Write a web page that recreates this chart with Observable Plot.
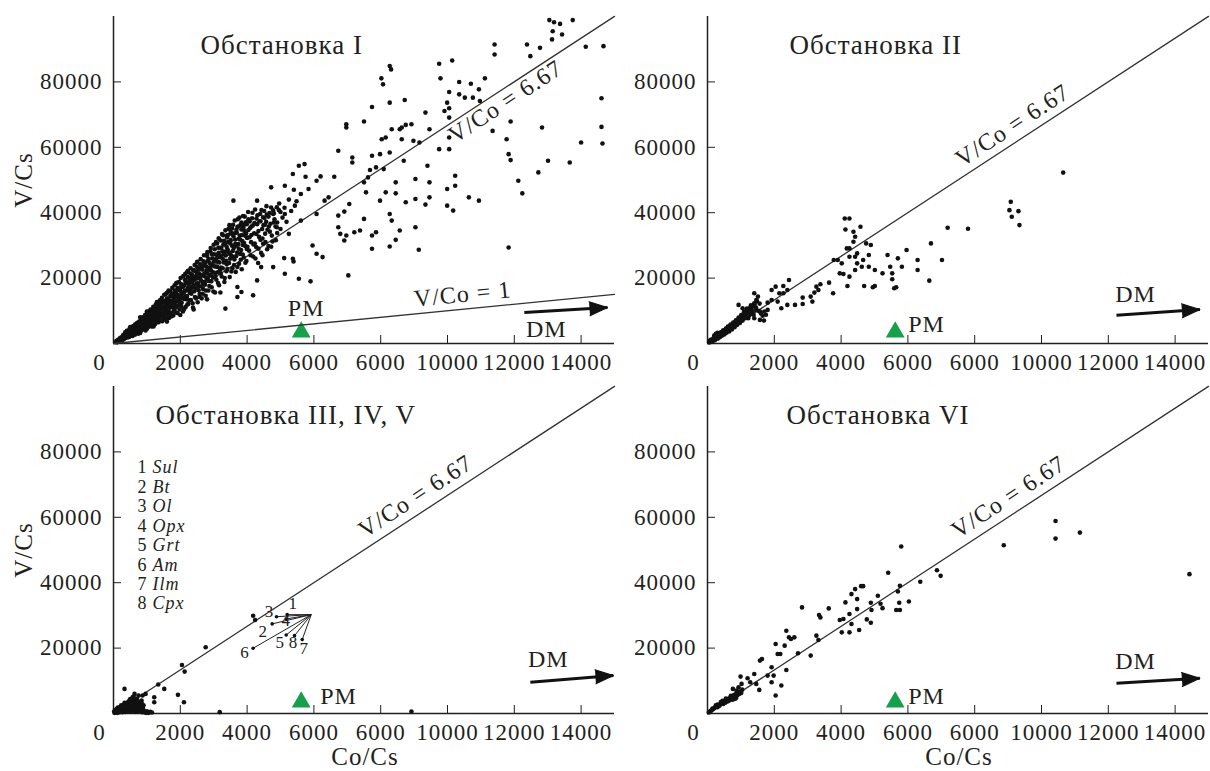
<!DOCTYPE html>
<html><head><meta charset="utf-8">
<script src="https://cdn.jsdelivr.net/npm/d3@7"></script>
<script src="https://cdn.jsdelivr.net/npm/@observablehq/plot@0.6"></script>
<style>
html,body{margin:0;padding:0;background:#fff;}
#wrap{position:relative;width:1210px;height:771px;overflow:hidden;background:#fff;}
#wrap svg{position:absolute;max-width:none;}
</style></head><body><div id="wrap"></div>
<script>
// ---- tick labels (as printed in the source figure) ----
const xTicks = [2000, 4000, 6000, 8000, 10000, 12000, 14000];
const xTickLabels = ["2000", "4000", "6000", "6000", "10000", "12000", "14000"];
const yTicks = [20000, 40000, 60000, 80000];
const titles = ["Обстановка I", "Обстановка II", "Обстановка III, IV, V", "Обстановка VI"];
const xLabel = "Co/Cs";
const yLabel = "V/Cs";
const ratioMain = 6.67;
const ratioOne = 1;
// primitive mantle (PM)
const pmPoint = [5620, 3500];
// DM arrows [x1, y1, x2, y2] per panel
const dmArrows = [[12300, 9470, 14790, 10990], [12245, 8640, 14742, 10380], [12480, 9560, 14967, 11600], [12245, 9250, 14742, 10780]];

// ---- Обстановка I ----
const pointsI = [
[13050,98900],[13190,98250],[13370,97740],[13750,98900],[13150,95500],[13430,94500],[13130,93000],
[11410,91440],[11410,88390],[12380,91440],[12480,87880],[12770,90420],[14140,90730],[14670,90930],
[9750,85550],[10140,86560],[9790,81080],[10350,79960],[10700,79450],[11120,81080],[10940,77720],
[8270,84840],[8310,83820],[8020,81080],[8070,79250],[10050,76910],[10350,76200],[10520,75180],[10760,75180],[10970,74170],
[8720,74470],[8270,73660],[9990,73660],[10050,71930],[14610,74980],[7740,72340],[9340,70610],[9910,71120],[10050,69090],
[7500,67870],[8570,65530],[8630,66040],[8750,66850],[8920,67060],[8330,65530],[9460,65530],[11890,67870],[12830,66040],[11350,65020],[14610,66240],
[6970,67060],[6970,66040],[8030,62480],[8150,62990],[8630,62480],[8980,61980],[9160,61470],[10050,62990],[10050,59440],[11770,62480],[14000,61470],[14640,61160],
[6730,58930],[7150,56900],[7150,55370],[7740,57400],[7980,57910],[8270,58420],[8690,55880],[9750,59440],[11830,57910],[11890,56080],[13010,55880],[13660,55370],
[5550,54360],[5370,51820],[5750,51000],[6200,51100],[6610,51000],[7500,49280],[7620,50800],[7680,53040],[7860,53850],[8090,53340],[9400,54360],[10230,51310],[9460,49280],[9990,47240],[10230,48260],[12120,49780],[12240,45920],[12720,52320],
[9040,50290],[8450,49280],[8150,46230],[8450,45920],[8750,43180],[9040,44200],[9460,44700],[9990,42160],[10170,40640],[10640,44700],[10940,43690],[7980,43690],[7560,46230],
[6730,39120],[6910,40340],[7060,42670],[7500,38100],[8270,39620],[8330,37590],[8570,34540],[9040,35560],[9340,42470],
[6730,35560],[6790,33530],[6970,33020],[7210,34040],[7380,34540],[7740,33020],[7860,34040],[8450,31700],[6910,31500],
[6080,27430],[6260,26420],[5960,29970],[5370,25910],[5110,26110],[5390,25100],[7740,28960],[8270,29670],[9140,28650],[11830,29360],
[7030,20830],[5550,19810],[5900,19000],[4780,23370],[5130,21340],[4420,23370],[3710,17270],[3830,15750],[4300,19300],[3350,10670],[3710,14220],[4180,14730],
[5130,48260],[3590,43690],[4720,47750],[5720,54860],
[4300,43690],[4890,41660],[5130,39620],[5610,45720],[5840,47240],[6080,49780],[6320,43690],[4890,35560],[5250,33530],[5610,37590],[6080,39620],[6440,44700],[5430,42160],[4480,38610],[4780,39620],
[100,600],[150,1200],[180,900],[220,1500],[250,1900],[260,1200],[300,2300],[320,1700],[350,2800],[360,2000],[380,3100],[400,2500],[420,3500],[440,1900],[460,3000],[480,3900],[500,2600],[520,4200],[540,3300],[560,3800],[580,4600],[600,2900],[610,4100],[630,5000],[650,3600],[670,4500],[690,5400],[700,3900],[720,4800],[740,6000],[760,4300],[780,5300],[800,6600],[810,3800],[830,5000],[850,6200],[870,7200],[880,4600],[900,5700],[920,6800],[940,7900],[950,5100],[970,6300],[990,7400],[1000,4500],[1020,8600],[1040,5800],[1060,7000],[1080,9200],[1100,6400],[1120,7800],[1140,5200],[1150,8800],[1170,10100],[1190,6900],[1200,8200],[1220,9500],[1240,5900],[1260,7600],[1280,10800],[1300,8900],[1320,6600],[1340,9900],[1350,11500],[1370,8100],[1390,7200],[1400,10500],[1420,12300],[1440,9000],[1460,6800],[1480,11200],[1500,8400],[1510,13000],[1530,9700],[1550,7600],[1570,11900],[1590,10300],[1600,13800],[1620,8900],[1640,12600],[1660,7800],[1680,10900],[1700,14500],[1710,9500],[1730,12000],[1750,15300],[1770,11100],[1790,8600],[1800,13400],[1820,10200],[1840,16200],[1860,12700],[1880,9400],[1900,14700],[1920,17000],[1940,11600],[1960,13900],[1980,10400],[2000,16100],[2020,18200],[2040,12500],[2060,15200],[2080,9800],[2100,17500],[2120,13600],[2140,19400],[2160,11200],[2180,16300],[2200,14400],[2220,20300],[2240,12100],[2260,18100],[2280,15500],[2300,21400],[2320,13300],[2340,17200],[2360,19600],[2380,11000],[2400,22500],[2420,16000],[2440,14200],[2460,20400],[2480,18300],[2500,23400],[2520,12600],[2540,17400],[2560,21500],[2580,15100],[2600,24200],[2620,19300],[2640,13800],[2660,22600],[2680,16700],[2700,25100],[2720,20600],[2740,18000],[2760,14600],[2780,23500],[2800,26800],[2820,21400],[2840,16200],[2860,19100],[2880,24600],[2900,28100],[2920,22400],[2940,17200],[2960,26000],[2980,20200],[3000,30200],[3020,23600],[3040,15600],[3060,27200],[3080,19500],[3100,25000],[3120,21800],[3140,29300],[3160,17800],[3180,26400],[3200,31500],[3220,23200],[3240,20500],[3260,28200],[3280,33100],[3300,24800],[3320,18800],[3340,30300],[3360,26900],[3380,22100],[3400,32400],[3420,28700],[3440,35000],[3460,24600],[3480,20300],[3500,30600],[3520,27000],[3540,33600],[3560,23000],[3580,36300],[3600,29200],[3620,25700],[3640,31800],[3660,21900],[3680,34800],[3700,27800],[3720,38000],[3740,30400],[3760,24400],[3780,33000],[3800,36200],[3820,28600],[3840,22700],[3860,31300],[3880,39000],[3900,26300],[3920,34400],[3940,29800],[3960,37100],[3980,25200],[4000,32300],[4030,40200],[4060,28400],[4090,35300],[4120,31000],[4150,38300],[4180,26600],[4210,33700],[4240,41000],[4270,29500],[4300,36500],[4330,24600],[4360,32600],[4390,39600],[4420,27700],[4450,35000],[4480,30500],[4510,40500],[4540,33600],[4570,37200],[4600,28800],[4640,38800],[4680,34200],[4720,41600],[4760,31200],[4800,39800],[4850,35800],[4900,33800],[4960,42800],[5000,40200],
[130,900],[200,1700],[240,800],[280,2000],[330,1500],[370,2500],[410,2100],[450,3300],[490,2200],[530,3600],[570,3000],[620,4400],[660,3200],[700,4700],[750,5500],[790,4700],[840,5700],[890,6500],[930,5300],[980,6900],[1030,7600],[1070,6100],[1110,8700],[1160,7400],[1210,8600],[1250,10000],[1290,7100],[1330,8400],[1380,10900],[1430,11400],[1470,8300],[1520,10700],[1560,12700],[1610,11300],[1650,9600],[1690,13100],[1740,11600],[1780,14300],[1830,12000],[1870,15300],[1910,13000],[1950,16500],[1990,12000],[2030,14600],[2070,17300],[2110,15600],[2150,18300],[2190,13500],[2230,17000],[2270,19300],[2310,16400],[2350,21000],[2390,17800],[2430,19500],[2470,22000],[2510,19900],[2550,16300],[2590,23000],[2630,20800],[2670,18600],[2710,23800],[2750,21700],[2790,19800],[2830,25400],[2870,22600],[2910,20900],[2950,24000],[2990,27300],[3030,21600],[3070,25800],[3110,23400],[3150,27700],[3190,22500],[3230,29300],[3270,25900],[3310,31400],[3350,28100],[3390,24200],[3430,31000],[3470,27500],[3510,34100],[3550,29900],[3590,26500],[3630,33700],[3670,29900],[3710,35600],[3750,32000],[3790,27400],[3830,34900],[3870,30100],[3910,36300],[3950,32900],[3990,28900],[4040,34700],[4080,37300],[4130,33200],[4170,36100],[4230,30600],[4280,38200],[4340,34400],[4400,37400],[4460,32100],[4530,36300],[4590,39400],[4650,35800],[4720,29600],[4800,37000],
[500,5000],[800,8000],[1000,9800],[1300,12700],[1600,15500],[1900,18600],[2200,21800],[2500,24800],[2800,27200],[3100,30600],[3400,33000],[800,3200],[1200,5200],[1600,6700],[2000,8700],[2400,10400],[2800,13500],[3200,15600],
[60,400],[90,800],[110,350],[140,1000],[170,600],[190,1400],[210,900],[230,1800],[270,1100],[290,2600],[310,1400],[340,2200],[350,3400],[390,1800],[400,3900],[430,2700],[460,2000],[470,4300],[510,3100],[520,2400],[550,4700],[570,2300],[590,5300],[610,3400],[640,2700],[650,5900],[680,3700],[710,6300],[730,4200],[740,3000],[770,6700],[790,3900],[810,5600],[820,7500],[850,4100],[860,5300],[880,8000],[910,4800],[930,6000],[950,8800],[960,4000],[990,5600],[1010,9400],[1020,6700],
[1030,5000],[1050,9800],[1070,8000],[1090,5500],[1110,10400],[1130,6800],[1150,9600],[1170,5600],[1190,11200],[1210,7300],[1230,10300],[1250,6200],[1270,12000],[1290,9300],[1310,7800],[1330,12700],[1350,6500],[1360,10200],[1390,13200],[1400,8600],[1420,7000],[1440,11700],[1450,14000],[1470,9800],[1490,12700],[1510,7400],[1520,14900],[1540,11300],[1560,8900],[1580,15200],[1600,10900],[1610,7700],[1630,13600],[1650,16200],[1670,11800],[1690,9200],[1700,15900],[1720,13000],[1740,8300],[1760,17000],[1780,12400],[1790,15000],[1810,9900],[1830,17800],[1850,14200],[1870,11000],[1880,18500],[1900,16200],[1920,9300],[1940,14800],[1960,18800],[1980,12900],[1990,16900],
[2010,20000],[2030,11300],[2050,17700],[2070,13900],[2090,20600],[2110,10500],[2130,16100],[2150,21300],[2170,14500],[2190,18600],[2210,11900],[2230,22200],[2250,16700],[2270,13200],[2290,20000],[2310,23000],[2330,15200],[2350,18800],[2370,12300],[2390,22300],[2410,20100],[2430,24000],[2450,16900],[2470,13800],[2490,21000],[2510,25000],[2530,18400],[2550,22700],[2570,14200],[2590,20300],[2610,25800],[2630,17500],[2650,23800],[2670,15200],[2690,21200],[2710,27000],[2730,18900],[2750,24700],[2770,16200],[2790,22300],[2810,28000],[2830,20200],[2850,25900],[2870,17600],[2890,23300],[2910,29200],[2930,19000],[2950,27200],[2970,21800],[2990,15900],
[3010,25000],[3030,28800],[3050,20600],[3070,31000],[3090,23500],[3110,27000],[3130,18500],[3150,32200],[3170,24800],[3190,29300],[3210,21400],[3230,26800],[3250,33500],[3270,23000],[3290,30300],[3310,27400],[3330,20000],[3350,34600],[3370,25300],[3390,29500],[3410,22800],[3430,33200],[3450,27900],[3470,36200],[3490,25900],[3510,31600],[3530,22000],[3550,35200],[3570,28300],[3590,32800],[3610,24000],[3630,37600],[3650,30500],[3670,26700],[3690,33900],[3710,23400],[3730,35800],[3750,29000],[3770,38500],[3790,31800],[3810,25600],[3830,37000],[3850,33200],[3870,27200],[3890,35400],[3910,30700],[3930,38800],[3950,24700],[3970,33700],[3990,36500],
[4010,29600],[4040,38000],[4070,32500],[4100,27000],[4130,35800],[4160,40000],[4190,30300],[4220,36800],[4250,26000],[4280,33500],[4310,39200],[4340,29000],[4370,37400],[4400,31700],[4430,40800],[4460,27000],[4490,36200],[4520,38400],[4550,31000],[4580,42000],[4610,34800],[4640,29800],[4670,39900],[4700,36600],[4740,33000],[4780,40700],[4820,38000],[4860,31600],[4900,37000],[4950,40800],[5000,35000],[5060,38500],[5120,41500],[5180,37200],[5250,44000],[5320,40500],[5400,47000],[5480,43500]
];

// ---- Обстановка II ----
const pointsII = [
[10650,52270],[9080,43320],[9040,40780],[9110,38750],[9310,40480],[9340,36210],[7190,35390],[7800,35090],[6690,30610],[7020,25530],[6640,19220],[6290,25530],[6290,22480],[5960,28580],[5700,26040],[5820,23490],[5390,27050],[5470,23490],[5530,21460],[5530,19630],[5590,16880],[5650,17190],[4950,17190],[5010,22480],[4830,23490],[5240,21460],[4660,25530],[4830,27050],[4480,27560],[4750,30610],[4580,35700],[4110,38240],[4250,38240],[4130,34880],[4370,34170],[4420,32650],[4250,29090],[4370,31120],[4170,29090],[3900,25530],[4020,24510],[4070,21260],[4190,17590],[4250,20440],[4420,22480],[4480,24510],[4620,23490],[4690,17590],[5010,17590],[3960,21460],[3780,25530],[4250,26540],[4420,26540],[4890,30100],[3760,15360],[3640,18610],[3380,18100],[3260,17390],[3320,16370],[3200,15560],[3090,14340],[3140,12810],[2850,14040],[2850,12100],[2620,11800],[2390,11800],[2390,16370],[2440,19430],[2270,17590],[2270,15360],[2150,15360],[2040,17390],[1920,16370],[2100,12810],[2210,10780],[1920,13320],[1800,10270],[1570,7220],[1690,7020],[1570,9760],[1400,15360],[1460,13320],[1340,11290],[1460,10270],[1400,12310],[1510,14340],[1220,9250],[1110,9760],[930,11800],[1050,10780],[1220,7730],[1400,7730],
[50,300],[80,700],[100,500],[120,1000],[150,800],[170,1300],[190,1100],[210,1600],[230,1200],[250,1900],[270,1500],[290,2200],[300,1800],[320,2500],[340,2100],[360,2800],[380,2300],[400,3100],[420,2700],[440,3400],[460,3000],[480,3700],[500,3300],[520,4000],[540,3600],[560,4300],[580,3900],[600,4600],[620,4200],[640,5000],[660,4500],[680,5300],[700,4800],[720,5600],[740,5100],[760,5900],[780,5400],[800,6300],[820,5800],[840,6600],[860,6100],[880,7000],[900,6400],[920,7300],[940,6800],[960,7700],[980,7100],[1000,8100],[1020,7500],[1040,8500],[1060,7900],[1080,9000],[1100,8300],[1120,9400],[1150,8800],[1170,10000],[1200,9300],[1230,10600],[1260,9900],[1290,11000],[1320,10400],[1350,9800],[1380,8800],[1410,12000],[1450,11000],[1480,13000],[1520,10000],[1560,12200],[1600,9200],[1650,8500],[1700,9800],[1750,8800],[1800,12500],[250,3000],[300,3300],[350,2600],[200,2400],[450,2700],
[70,900],[110,1200],[140,600],[180,1600],[220,1000],[260,2300],[310,1500],[330,2900],[370,1900],[410,3500],[430,2400],[470,4000],[510,2800],[550,4600],[570,3300],[610,5200],[650,3700],[690,5800],[730,4300],[770,6400],[810,5000],[850,7100],[890,5700],[930,7900],[970,6300],[1010,8700],[1050,7000],[1090,9600],[1130,7700],[1180,10700],[1250,8600],[1300,11700],[1340,9000]
];

// ---- Обстановка III, IV, V ----
const pointsIII = [
[4180,29900],[4240,28580],[2760,20240],[2050,14850],[2130,12810],[1340,8850],[1520,7530],[1930,5700],[1220,4980],[1220,3460],[2110,3460],[840,3970],[630,6000],[330,7530],[570,4980],[750,5490],[870,5490],[960,6000],[8920,610],[3180,410],
[30,200],[60,500],[80,900],[100,300],[120,1200],[140,700],[160,1500],[180,400],[200,1000],[220,1800],[240,600],[260,1300],[280,2100],[300,900],[320,1600],[340,2400],[360,500],[380,1200],[400,2000],[420,2800],[440,800],[460,1500],[480,2300],[500,3100],[520,1000],[540,1800],[560,2600],[580,3400],[600,700],[620,1400],[640,2200],[660,3000],[680,3800],[700,1100],[720,1900],[740,2700],[760,600],[780,1500],[800,2300],[820,900],[840,3200],[860,400],[880,1700],[900,1000],[700,4500],[750,3600],[650,4200],[600,5200],[550,3900],[500,4400],[450,3600],[400,3300],[350,2900],[300,2600],[250,2300],[200,2000],[150,1700],[100,1400],[50,900],[950,300],[1000,700],[1050,200],[1100,500],[1150,300],[900,2500],[850,2800],
[20,600],[70,1100],[110,200],[130,1800],[190,800],[230,2500],[270,400],[310,1900],[330,3300],[390,700],[430,2200],[470,3900],[510,600],[570,1200],[610,2900],[670,500],[710,3300],[770,2100],[810,3600],[870,1200],[920,600],[980,200]
];
// minerals: convergence point and end points
const mineralNames = ["Sul", "Bt", "Ol", "Opx", "Grt", "Am", "Ilm", "Cpx"];
const mineralIds = ["1", "2", "3", "4", "5", "6", "7", "8"];
const mineralCo = [5200, 4750, 4880, 5170, 5170, 4180, 5650, 5420];
const mineralV = [30230, 27400, 29600, 28900, 24000, 19950, 22600, 23800];
const mineralHub = [5920, 30230];

// ---- Обстановка VI ----
const pointsVI = [
[14430,42610],[10420,58880],[10420,53490],[11150,55320],[8870,51460],[5800,51050],[5410,43020],[6870,43830],[6980,42100],[6370,40270],[6030,34270],[5760,39050],[5700,37320],[5740,33870],[5650,31630],[5760,31630],[5100,35990],[5180,33550],[5240,32220],[4890,33870],[4910,31630],[4890,27760],[4770,28780],[4660,38950],[4600,38950],[4420,38040],[4480,34990],[4480,31930],[4310,36510],[4130,33970],[4250,30410],[4070,28880],[3960,28580],[4020,24820],[4250,24820],[4540,25530],[4310,27360],[3630,32140],[3340,30100],[3380,29390],[2830,32440],[3260,23800],[3320,22480],[3090,17700],[2710,18410],[2440,23290],[2500,22780],[2600,23290],[2360,25320],[2310,20750],[2040,21260],[2100,18200],[2180,18200],[2360,13320],[2210,8540],[2040,5490],[1920,14140],[1980,11590],[1800,11590],[1920,9560],[1570,16170],[1630,16680],[1550,7220],[1400,12100],[1280,9560],[1460,9050],[1200,10780],[990,11290],[1020,9050],[930,8030],[870,7020],[760,7530],[820,4480],
[40,300],[70,600],[100,800],[130,1100],[160,1300],[190,1500],[220,1800],[250,2000],[280,2300],[300,1900],[330,2600],[360,2400],[390,2900],[420,3100],[450,3400],[470,2900],[500,3700],[530,3300],[560,4100],[590,3800],[620,4500],[650,4000],[680,4900],[710,4400],[740,5300],[770,4700],[800,5700],[830,5100],[860,6100],[890,5500],[920,6400],[950,6000],[980,6800],[1010,6300],[1040,7300],[300,2700],[450,3900],[600,3700],[750,4200],[850,4700],[700,5400],[550,4600],[400,3500],[250,2500],[150,1500]
];

const ink = "#231f20";
const font = "'Liberation Serif', 'Times New Roman', serif";
const xTickText = d => xTickLabels[xTicks.indexOf(d)];
const labelOffsets = [[6, -11], [-9, 8], [-7, -5], [0, 2], [-6, 8], [-8, 4], [2, 9], [-1, 7]];
const mid = {textAnchor: "middle", lineAnchor: "middle"};

function panel(cfg) {
  const marks = [
    Plot.ruleX([0], {stroke: ink, strokeWidth: 1.5}),
    Plot.ruleY([0], {stroke: ink, strokeWidth: 1.5}),
    Plot.axisX(xTicks, {tickSize: -8, tickPadding: 18, tickFormat: xTickText, label: null, stroke: ink, fill: ink}),
    Plot.axisY(yTicks, {tickSize: -8, tickPadding: 19, tickFormat: d => String(d), label: null, stroke: ink, fill: ink}),
    Plot.text(["0"], {frameAnchor: "bottom-left", ...mid, dx: -14, dy: 19, fill: ink}),
    Plot.line([0, 15000], {x: d => d, y: d => d * ratioMain, stroke: "#333", strokeWidth: 1.3}),
    Plot.dot(cfg.points, {x: d => d[0], y: d => d[1], r: 2.3, fill: "#111", stroke: null}),
    Plot.text([cfg.title], {frameAnchor: "top-left", dx: cfg.titleDx, dy: cfg.titleDy, textAnchor: "start", lineAnchor: "middle", fontSize: 27, letterSpacing: 0.5, fill: ink}),
    Plot.text(["V/Co = 6.67"], {x: cfg.ratioX, y: cfg.ratioX * ratioMain, dy: cfg.ratioDy, rotate: -33.2, ...mid, fontSize: 24, letterSpacing: 0.6, fill: ink}),
    Plot.dot([pmPoint], {x: d => d[0], y: d => d[1], symbol: "triangle", r: 7, fill: "#15a04a", stroke: null}),
    Plot.text(["PM"], {x: pmPoint[0], y: pmPoint[1], dx: cfg.pmDx, dy: cfg.pmDy, textAnchor: cfg.pmAnchor, lineAnchor: "middle", fontSize: 24, letterSpacing: 0.5, fill: ink}),
    Plot.link([cfg.arrow], {x1: d => d[0], y1: d => d[1], x2: d => d[2], y2: d => d[3], stroke: "#111", strokeWidth: 3}),
    Plot.vector([cfg.arrow], {x: d => d[2], y: d => d[3], length: 18, rotate: 86, anchor: "end", shape: "spike", r: 7, fill: "#111", stroke: "#111", strokeWidth: 1}),
    Plot.text(["DM"], {x: cfg.arrow[0], y: cfg.arrow[1], dx: cfg.dmDx, dy: cfg.dmDy, ...mid, fontSize: 24, letterSpacing: 0.5, fill: ink})
  ];
  if (cfg.yTitle) marks.push(Plot.text([yLabel], {frameAnchor: "left", ...mid, dx: -90, dy: 0, rotate: -90, fontSize: 25, letterSpacing: 0.8, fill: ink}));
  if (cfg.xTitle) marks.push(Plot.text([xLabel], {frameAnchor: "bottom", ...mid, dx: 1, dy: 43, fontSize: 25, letterSpacing: 0.8, fill: ink}));
  if (cfg.extra) marks.push(...cfg.extra);
  const svg = Plot.plot({
    width: cfg.width, height: cfg.height,
    marginLeft: 113, marginRight: cfg.marginRight, marginTop: 16, marginBottom: cfg.height - 16 - 327,
    x: {domain: [0, 15000]},
    y: {domain: [0, 100000]},
    style: {background: "none", fontFamily: font, fontSize: "23px", color: ink, overflow: "visible", letterSpacing: "1px"},
    marks
  });
  svg.style.left = cfg.left + "px";
  svg.style.top = cfg.top + "px";
  document.getElementById("wrap").appendChild(svg);
}

const fanLinks = mineralIds.map((id, i) => ({id, x: mineralCo[i], y: mineralV[i], dx: labelOffsets[i][0], dy: labelOffsets[i][1]}));

panel({left: 0, top: 0, width: 620, height: 385, marginRight: 6, points: pointsI, title: titles[0], titleDx: 87, titleDy: 29,
  ratioX: 11737, ratioDy: 14, pmDx: 5, pmDy: -24, pmAnchor: "middle", arrow: dmArrows[0], dmDx: 22, dmDy: 17, yTitle: true,
  extra: [
    Plot.line([0, 15000], {x: d => d, y: d => d * ratioOne, stroke: "#333", strokeWidth: 1.3}),
    Plot.text(["V/Co = 1"], {x: 10450, y: 10450 * ratioOne, dy: -15, rotate: -5.6, ...mid, fontSize: 24, letterSpacing: 0.4, fill: ink})
  ]});
panel({left: 594, top: 0, width: 616, height: 385, marginRight: 2, points: pointsII, title: titles[1], titleDx: 82, titleDy: 29,
  ratioX: 9132, ratioDy: -19, pmDx: 13, pmDy: -8, pmAnchor: "start", arrow: dmArrows[1], dmDx: 19, dmDy: -21});
panel({left: 0, top: 370, width: 620, height: 401, marginRight: 6, points: pointsIII, title: titles[2], titleDx: 42, titleDy: 29,
  ratioX: 9042, ratioDy: -20, pmDx: 19, pmDy: -6, pmAnchor: "start", arrow: dmArrows[2], dmDx: 18, dmDy: -23, yTitle: true, xTitle: true,
  extra: [
    Plot.link(fanLinks, {x1: "x", y1: "y", x2: () => mineralHub[0], y2: () => mineralHub[1], stroke: "#222", strokeWidth: 1}),
    Plot.dot(fanLinks, {x: "x", y: "y", r: 1.8, fill: "#111"}),
    ...fanLinks.map(d => Plot.text([d], {x: "x", y: "y", text: "id", dx: d.dx, dy: d.dy, ...mid, fontSize: 17, letterSpacing: 0, fill: ink})),
    Plot.text([mineralIds.join("\n")], {frameAnchor: "top-left", dx: 24, dy: 73, lineAnchor: "top", lineHeight: 1.08, textAnchor: "start", fontSize: 18, letterSpacing: 0, fill: ink}),
    Plot.text([mineralNames.join("\n")], {frameAnchor: "top-left", dx: 39, dy: 73, lineAnchor: "top", lineHeight: 1.08, textAnchor: "start", fontSize: 18, letterSpacing: 0, fontStyle: "italic", fill: ink})
  ]});
panel({left: 594, top: 370, width: 616, height: 401, marginRight: 2, points: pointsVI, title: titles[3], titleDx: 79, titleDy: 29,
  ratioX: 9012, ratioDy: -20, pmDx: 13, pmDy: -6, pmAnchor: "start", arrow: dmArrows[3], dmDx: 19, dmDy: -22, xTitle: true});
</script>
</body></html>
